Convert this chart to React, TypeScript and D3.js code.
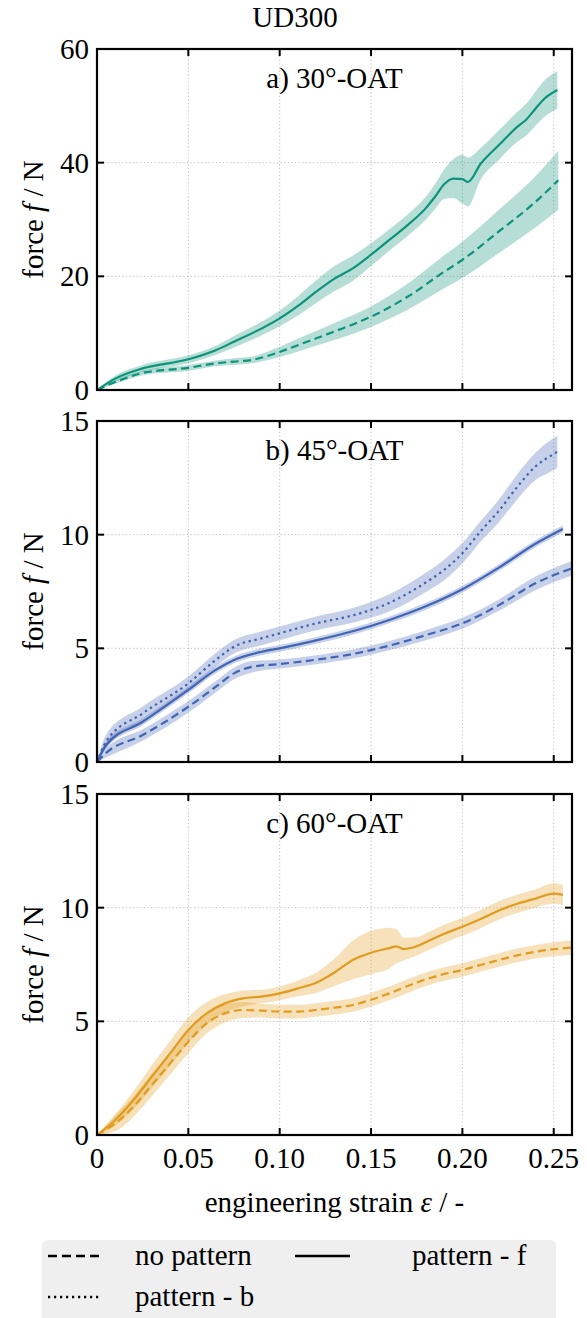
import React from "react";
import * as d3 from "d3";

// ---------- data ----------
const title = "UD300";
const panelTitles = ["a) 30°-OAT", "b) 45°-OAT", "c) 60°-OAT"];
const yMaxes = [60, 15, 15];
const yTicksA = [0, 20, 40, 60];
const yTicksB = [0, 5, 10, 15];
const yTicksC = [0, 5, 10, 15];
const xTicks = [0, 0.05, 0.1, 0.15, 0.2, 0.25];
const xTickLabels = ["0", "0.05", "0.10", "0.15", "0.20", "0.25"];
const colors = ["#0c937a", "#4264b4", "#e19b1f"];
const legendLabels = ["no pattern", "pattern - f", "pattern - b"];

// panel a: 30°
const strainA_nop = [0, 0.01, 0.025, 0.05, 0.065, 0.075, 0.085, 0.1, 0.115, 0.13, 0.15, 0.17, 0.19, 0.2, 0.22, 0.24, 0.2525];
const forceA_nop = [0, 1.4, 3.0, 3.9, 4.7, 5.0, 5.3, 6.7, 8.5, 10.3, 12.9, 16.4, 20.8, 22.9, 27.9, 33.1, 36.9];
const spreadA_nop = [0, 0.3, 0.4, 0.5, 0.5, 0.6, 0.6, 0.9, 1.2, 1.5, 1.8, 2.3, 2.9, 3.2, 3.8, 4.5, 5.2];

const strainA_f = [0, 0.01, 0.025, 0.05, 0.065, 0.075, 0.09, 0.1, 0.11, 0.12, 0.13, 0.14, 0.15, 0.16, 0.17, 0.18, 0.185, 0.19, 0.195, 0.2, 0.203, 0.21, 0.22, 0.23, 0.235, 0.24, 0.245, 0.252];
const forceA_f = [0, 2.0, 3.8, 5.4, 7.0, 8.5, 10.8, 12.6, 14.8, 17.3, 19.6, 21.4, 23.8, 26.4, 29.0, 32.0, 34.0, 36.2, 37.2, 37.1, 36.6, 39.8, 43.1, 46.3, 47.6, 49.5, 51.3, 52.8];
const spreadA_f = [0, 0.5, 0.6, 0.7, 0.8, 1.0, 1.2, 1.4, 1.7, 2.0, 2.2, 2.2, 2.0, 1.9, 1.9, 2.0, 2.2, 2.6, 3.4, 4.3, 4.3, 2.8, 2.6, 2.6, 2.8, 3.0, 3.2, 3.3];

// panel b: 45°
const strainB_nop = [0, 0.005, 0.025, 0.05, 0.065, 0.075, 0.085, 0.1, 0.12, 0.14, 0.16, 0.18, 0.2, 0.22, 0.24, 0.26];
const forceB_nop = [0, 0.4, 1.19, 2.43, 3.31, 3.9, 4.19, 4.31, 4.5, 4.75, 5.12, 5.58, 6.1, 6.9, 7.86, 8.52];
const spreadB_nop = [0, 0.2, 0.25, 0.25, 0.25, 0.25, 0.25, 0.2, 0.2, 0.2, 0.2, 0.22, 0.24, 0.25, 0.3, 0.32];

const strainB_f = [0, 0.005, 0.025, 0.05, 0.065, 0.075, 0.09, 0.1, 0.12, 0.14, 0.16, 0.18, 0.2, 0.22, 0.24, 0.255];
const forceB_f = [0, 0.75, 1.77, 3.17, 4.05, 4.49, 4.85, 5.0, 5.35, 5.75, 6.25, 6.85, 7.6, 8.55, 9.6, 10.25];
const spreadB_f = [0, 0.15, 0.15, 0.15, 0.15, 0.15, 0.15, 0.15, 0.15, 0.15, 0.15, 0.15, 0.15, 0.15, 0.15, 0.15];

const strainB_b = [0, 0.005, 0.025, 0.05, 0.065, 0.075, 0.09, 0.1, 0.12, 0.14, 0.16, 0.18, 0.19, 0.2, 0.21, 0.22, 0.23, 0.24, 0.25, 0.252];
const forceB_b = [0, 0.9, 2.14, 3.46, 4.49, 5.07, 5.44, 5.66, 6.1, 6.45, 7.0, 7.9, 8.45, 9.18, 10.15, 11.05, 12.1, 13.0, 13.55, 13.65];
const spreadB_b = [0, 0.3, 0.3, 0.3, 0.3, 0.3, 0.3, 0.3, 0.3, 0.32, 0.38, 0.42, 0.45, 0.45, 0.45, 0.5, 0.55, 0.6, 0.7, 0.7];

// panel c: 60°
const strainC_nop = [0, 0.01, 0.02, 0.03, 0.04, 0.05, 0.06, 0.07, 0.08, 0.09, 0.1, 0.11, 0.12, 0.13, 0.14, 0.15, 0.16, 0.17, 0.18, 0.19, 0.2, 0.21, 0.22, 0.23, 0.24, 0.26];
const forceC_nop = [0, 0.51, 1.25, 2.2, 3.15, 4.1, 4.91, 5.35, 5.5, 5.47, 5.43, 5.43, 5.5, 5.6, 5.72, 5.95, 6.23, 6.55, 6.85, 7.08, 7.26, 7.48, 7.7, 7.9, 8.06, 8.25];
const spreadC_nop = [0, 0.35, 0.45, 0.5, 0.5, 0.5, 0.45, 0.4, 0.35, 0.3, 0.3, 0.3, 0.3, 0.3, 0.3, 0.3, 0.3, 0.3, 0.3, 0.3, 0.3, 0.3, 0.3, 0.3, 0.3, 0.32];

const strainC_f = [0, 0.01, 0.02, 0.03, 0.04, 0.05, 0.06, 0.07, 0.08, 0.09, 0.1, 0.11, 0.12, 0.13, 0.14, 0.15, 0.16, 0.164, 0.168, 0.175, 0.18, 0.19, 0.2, 0.21, 0.22, 0.23, 0.24, 0.25, 0.255];
const forceC_f = [0, 0.66, 1.54, 2.57, 3.59, 4.62, 5.35, 5.79, 6.01, 6.09, 6.23, 6.45, 6.7, 7.15, 7.7, 8.02, 8.22, 8.3, 8.18, 8.3, 8.48, 8.85, 9.16, 9.5, 9.88, 10.17, 10.4, 10.62, 10.56];
const spreadC_f = [0, 0.25, 0.4, 0.5, 0.55, 0.55, 0.5, 0.4, 0.35, 0.3, 0.3, 0.35, 0.45, 0.6, 0.85, 0.95, 0.9, 0.75, 0.5, 0.4, 0.4, 0.4, 0.4, 0.4, 0.4, 0.4, 0.4, 0.45, 0.45];

// ---------- layout ----------
const W = 587;
const H = 1318;
const left = 97;
const right = 572;
const panelTops = [49, 421, 794];
const panelH = 341;
const FONT = "Liberation Serif";
const FS = 29;

type Series = { s: number[]; v: number[]; e: number[]; style: "dash" | "solid" | "dot" };

const panels: { ticks: number[]; series: Series[] }[] = [
  {
    ticks: yTicksA,
    series: [
      { s: strainA_nop, v: forceA_nop, e: spreadA_nop, style: "dash" },
      { s: strainA_f, v: forceA_f, e: spreadA_f, style: "solid" },
    ],
  },
  {
    ticks: yTicksB,
    series: [
      { s: strainB_nop, v: forceB_nop, e: spreadB_nop, style: "dash" },
      { s: strainB_f, v: forceB_f, e: spreadB_f, style: "solid" },
      { s: strainB_b, v: forceB_b, e: spreadB_b, style: "dot" },
    ],
  },
  {
    ticks: yTicksC,
    series: [
      { s: strainC_nop, v: forceC_nop, e: spreadC_nop, style: "dash" },
      { s: strainC_f, v: forceC_f, e: spreadC_f, style: "solid" },
    ],
  },
];

const dashFor = (st: string) => (st === "dash" ? "8,4.5" : st === "dot" ? "2.4,3.6" : undefined);

const txt: React.CSSProperties = { fontFamily: FONT, fontSize: FS };

function T(props: any) {
  return <text fontFamily={FONT} fontSize={FS} style={txt} {...props} />;
}

export default function App() {
  const x = d3.scaleLinear().domain([0, 0.26]).range([left, right]);
  const TL = 7;

  return (
    <svg width={W} height={H} style={{ position: "absolute", left: 0, top: 0, background: "#fff" }}>
      <rect x={0} y={0} width={W} height={H} fill="#fff" />
      <T x={295} y={27} textAnchor="middle">
        {title}
      </T>
      {panels.map((p, pi) => {
        const top = panelTops[pi];
        const y = d3.scaleLinear().domain([0, yMaxes[pi]]).range([top + panelH, top]);
        const color = colors[pi];
        const clipId = `clip${pi}`;
        return (
          <g key={pi}>
            <defs>
              <clipPath id={clipId}>
                <rect x={left} y={top} width={right - left} height={panelH} />
              </clipPath>
            </defs>
            {xTicks.slice(1).map((t) => (
              <line key={"gx" + t} x1={x(t)} x2={x(t)} y1={top} y2={top + panelH} stroke="#bdbdbd" strokeWidth={1} strokeDasharray="1.2,2.4" />
            ))}
            {p.ticks.slice(1, -1).map((t) => (
              <line key={"gy" + t} x1={left} x2={right} y1={y(t)} y2={y(t)} stroke="#bdbdbd" strokeWidth={1} strokeDasharray="1.2,2.4" />
            ))}
            <g clipPath={`url(#${clipId})`}>
              {p.series.map((s, si) => {
                const pts = s.s.map((sv, i) => ({ s: sv, v: s.v[i], e: s.e[i] }));
                const area = d3
                  .area<{ s: number; v: number; e: number }>()
                  .x((d) => x(d.s))
                  .y0((d) => y(d.v - d.e))
                  .y1((d) => y(d.v + d.e))
                  .curve(d3.curveMonotoneX);
                return <path key={"a" + si} d={area(pts) || ""} fill={color} fillOpacity={0.3} stroke="none" />;
              })}
              {p.series.map((s, si) => {
                const pts = s.s.map((sv, i) => ({ s: sv, v: s.v[i] }));
                const line = d3
                  .line<{ s: number; v: number }>()
                  .x((d) => x(d.s))
                  .y((d) => y(d.v))
                  .curve(d3.curveMonotoneX);
                return (
                  <path
                    key={"l" + si}
                    d={line(pts) || ""}
                    fill="none"
                    stroke={color}
                    strokeWidth={2.2}
                    strokeDasharray={dashFor(s.style)}
                  />
                );
              })}
            </g>
            {xTicks.slice(1).map((t) => (
              <g key={"tx" + t}>
                <line x1={x(t)} x2={x(t)} y1={top + panelH} y2={top + panelH - TL} stroke="#000" strokeWidth={2} />
                <line x1={x(t)} x2={x(t)} y1={top} y2={top + TL} stroke="#000" strokeWidth={2} />
              </g>
            ))}
            {p.ticks.slice(1, -1).map((t) => (
              <g key={"ty" + t}>
                <line x1={left} x2={left + TL} y1={y(t)} y2={y(t)} stroke="#000" strokeWidth={2} />
                <line x1={right} x2={right - TL} y1={y(t)} y2={y(t)} stroke="#000" strokeWidth={2} />
              </g>
            ))}
            <rect x={left} y={top} width={right - left} height={panelH} fill="none" stroke="#000" strokeWidth={2.2} />
            {p.ticks.map((t) => (
              <T key={"yl" + t} x={89} y={y(t)} dy="0.35em" textAnchor="end">
                {t}
              </T>
            ))}
            <T transform={`translate(43, ${top + panelH / 2}) rotate(-90)`} textAnchor="middle">
              force <tspan fontStyle="italic">f</tspan> / N
            </T>
            <T x={(left + right) / 2} y={top + 39} textAnchor="middle">
              {panelTitles[pi]}
            </T>
            {pi === 2 &&
              xTicks.map((t, i) => (
                <T key={"xl" + t} x={x(t)} y={top + panelH + 33} textAnchor="middle">
                  {xTickLabels[i]}
                </T>
              ))}
          </g>
        );
      })}
      <T x={(left + right) / 2} y={1212} textAnchor="middle">
        engineering strain <tspan fontStyle="italic">ε</tspan> / -
      </T>
      <rect x={42} y={1240} width={514} height={100} rx={6} fill="#efefef" />
      <line x1={48} x2={102} y1={1256} y2={1256} stroke="#000" strokeWidth={2.4} strokeDasharray="9,5" />
      <T x={135} y={1265}>{legendLabels[0]}</T>
      <line x1={48} x2={102} y1={1297} y2={1297} stroke="#000" strokeWidth={2.4} strokeDasharray="2.2,3.8" />
      <T x={135} y={1306}>{legendLabels[2]}</T>
      <line x1={295} x2={350} y1={1256} y2={1256} stroke="#000" strokeWidth={2.4} />
      <T x={412} y={1265}>{legendLabels[1]}</T>
    </svg>
  );
}
